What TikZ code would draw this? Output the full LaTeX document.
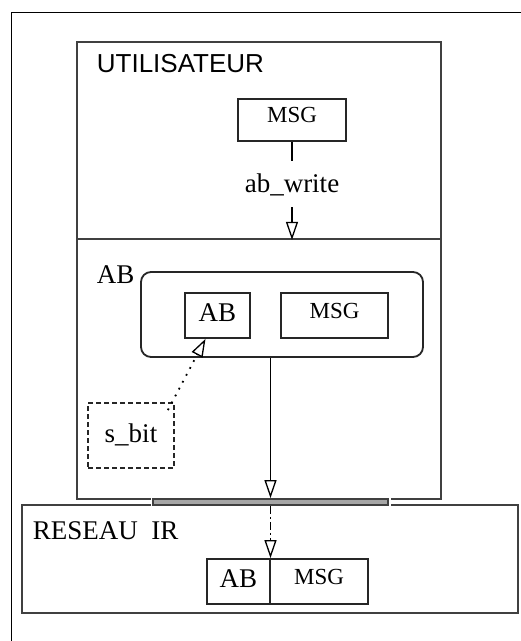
\documentclass[tikz,border=0pt]{standalone}
\usepackage{fontspec}
\setmainfont{Liberation Serif}
\newfontfamily\sansfam{Liberation Sans}
\usetikzlibrary{arrows.meta}
\usetikzlibrary{positioning}

\begin{document}
\begin{tikzpicture}
	[x=1pt, y=-1pt, line width=1.8pt,
	 layer/.style = {draw=black!75, rectangle, inner sep=0pt},
	 box/.style = {draw=black!85, rectangle, inner sep=0pt, minimum height=45pt},
	 msg/.style = {font=\fontsize{23}{25}\selectfont, text height=15pt, text depth=10pt},
	 ab/.style = {font=\fontsize{27}{30}\selectfont, text height=18pt, text depth=7pt},
	 lbl/.style = {anchor=base west, inner sep=0pt, font=\fontsize{27}{30}\selectfont},
	 arr/.style = {-{Triangle[open, length=18pt, width=12pt, line width=1.3pt]}}]
	\useasboundingbox (0,0) rectangle (521,641);
	\draw[black, line width=1pt] (11,641) -- (11,12) -- (521,12);
	% layers
	\node[layer, minimum width=364pt, minimum height=197pt] (user) at (259,140.5) {};
	\node[layer, minimum width=364pt, minimum height=260pt] (ablayer) at (259,369) {};
	\node[layer, minimum width=496pt, minimum height=108pt] (reseau) at (270,559) {};
	\node[layer, fill=black!35, minimum width=235pt, minimum height=6pt,
	      preaction={draw=white, line width=5pt}] (bar) at (270.5,502) {};
	\node[lbl, font=\sansfam\fontsize{26}{30}\selectfont] (utitle) at (96,72) {UTILISATEUR};
	\node[lbl] (abtitle) at (96,283) {AB};
	\node[lbl] (ntitle) at (32,539) {RESEAU\ \ IR};
	% boxes
	\node[box, msg, minimum width=108pt, minimum height=42pt] (msg1) at (292,120) {MSG};
	\node[anchor=base, inner xsep=2pt, inner ysep=11pt, font=\fontsize{27}{30}\selectfont] (wr) at (292,192) {ab\_write};
	\node[box, rounded corners=10pt, minimum width=282pt, minimum height=85pt] (abframe) at (282,314.5) {};
	\node[box, ab, minimum width=65pt] (abin) at (217.5,315.5) {AB};
	\node[box, msg, minimum width=107pt] (msgin) at (334.5,315.5) {MSG};
	\node[box, ab, dash pattern=on 5pt off 3pt, minimum width=86pt, minimum height=65pt, text depth=5pt] (sbit) at (131,435.5) {s\_bit};
	\node[box, ab, minimum width=63pt] (abnet) at (238.5,581.5) {AB};
	\node[box, msg, minimum width=98pt] (msgnet) at (319,581.5) {MSG};
	% connectors
	\draw (msg1) -- (wr);
	\draw[arr] (wr) -- (wr.south |- user.south);
	\draw[arr] (bar.north |- abframe.south) -- (bar.north);
	\draw[arr, dash pattern=on 8pt off 3pt on 2pt off 3pt] (bar.south) -- (bar.south |- abnet.north);
	\draw[arr, dash pattern=on 1.8pt off 6pt] ([xshift=-7pt, yshift=-8pt]sbit.north east) -- ([xshift=-12pt]abin.south);
\end{tikzpicture}
\end{document}
